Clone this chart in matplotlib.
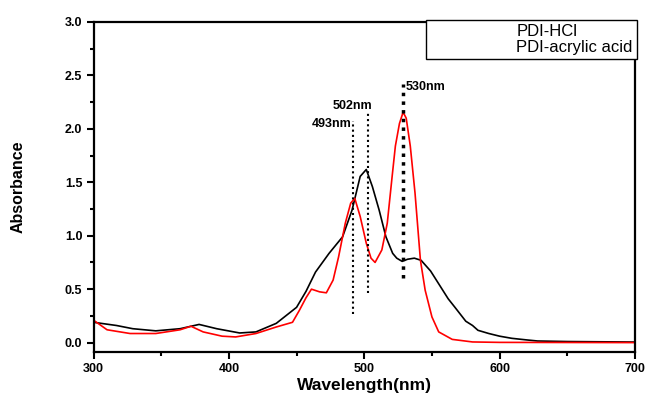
import matplotlib
matplotlib.use("Agg")
import matplotlib.pyplot as plt
from matplotlib.lines import Line2D
from matplotlib.ticker import MultipleLocator, FormatStrFormatter

plt.rcParams['font.family'] = ['Liberation Sans', 'DejaVu Sans']

# PDI-HCl (black)
hcl_wl = [300, 317, 329, 346, 364, 378, 391, 408, 420, 435, 450, 457, 464, 474, 484,
          491, 497, 501.5, 506, 511, 516, 521, 524, 528, 532, 537, 542, 549, 555,
          562, 567, 575, 580, 584, 592, 600, 609, 620, 628, 650, 700]
hcl_abs = [0.19, 0.16, 0.13, 0.11, 0.13, 0.17, 0.13, 0.09, 0.10, 0.18, 0.33, 0.48, 0.66, 0.835, 0.99,
           1.24, 1.555, 1.62, 1.46, 1.24, 0.99, 0.835, 0.79, 0.76, 0.78, 0.79, 0.77, 0.67, 0.55,
           0.41, 0.33, 0.2, 0.16, 0.115, 0.085, 0.06, 0.04, 0.025, 0.015, 0.01, 0.005]

# PDI-acrylic acid (red)
acr_wl = [300, 310, 327, 346, 364, 372, 381, 395, 405, 420, 435, 447, 452, 457, 461,
          467, 472, 477, 481, 486, 490, 493, 497, 501.5, 505, 508, 513, 517, 520.6,
          523, 526, 528.7, 531, 534, 537.5, 541.5, 545, 550, 555, 565, 580, 600, 700]
acr_abs = [0.21, 0.12, 0.085, 0.085, 0.12, 0.153, 0.10, 0.06, 0.053, 0.085, 0.146, 0.19, 0.30, 0.42, 0.50,
           0.475, 0.466, 0.585, 0.80, 1.117, 1.305, 1.35, 1.18, 0.93, 0.79, 0.75, 0.867, 1.117, 1.555,
           1.84, 2.05, 2.156, 2.1, 1.84, 1.40, 0.77, 0.49, 0.24, 0.10, 0.03, 0.006, 0.002, 0.0]

# dotted peak markers and their labels
marks_x = [492, 502.7, 528.3]
marks_lo = [0.27, 0.46, 0.60]
marks_hi = [2.07, 2.17, 2.42]
marks_lbl = ["493nm", "502nm", "530nm"]
marks_tx = [490.4, 505.8, 530.6]
marks_ty = [2.05, 2.21, 2.39]
marks_ha = ["right", "right", "left"]
marks_lw = [1.5, 1.5, 2.5]

fig = plt.figure(figsize=(6.5, 3.96), dpi=100)
ax = fig.add_axes([93.5 / 650, 1 - 352 / 396, (635 - 93.5) / 650, (352 - 22) / 396])

ax.plot(hcl_wl, hcl_abs, color="black", lw=1.2)
ax.plot(acr_wl, acr_abs, color="red", lw=1.2)

for x, lo, hi, lbl, tx, ty, ha, lw in zip(marks_x, marks_lo, marks_hi, marks_lbl,
                                          marks_tx, marks_ty, marks_ha, marks_lw):
    ax.plot([x, x], [lo, hi], color="black", lw=lw, linestyle=(0, (1, 1.5)))
    ax.text(tx, ty, lbl, ha=ha, va="center", fontsize=9, fontweight="bold")

ax.set_xlim(300, 700)
ax.set_ylim(-0.088, 3.0)
ax.xaxis.set_major_locator(MultipleLocator(100))
ax.xaxis.set_minor_locator(MultipleLocator(50))
ax.yaxis.set_major_locator(MultipleLocator(0.5))
ax.yaxis.set_minor_locator(MultipleLocator(0.25))
ax.yaxis.set_major_formatter(FormatStrFormatter("%.1f"))
ax.tick_params(which="major", direction="out", length=5, width=1.5, labelsize=9, pad=3)
ax.tick_params(which="minor", direction="out", length=3, width=1.5)
for lab in ax.get_xticklabels() + ax.get_yticklabels():
    lab.set_fontweight("bold")
for sp in ax.spines.values():
    sp.set_linewidth(1.6)

ax.set_xlabel("Wavelength(nm)", fontsize=12.5, fontweight="bold", labelpad=2)
ax.set_ylabel("Absorbance", fontsize=11.5, fontweight="bold", labelpad=28)

handles = [Line2D([], [], color="white", lw=0), Line2D([], [], color="white", lw=0)]
leg = ax.legend(handles, ["PDI-HCl", "PDI-acrylic acid"], loc="upper right",
                bbox_to_anchor=(637 / 650, 1 - 20 / 396), bbox_transform=fig.transFigure,
                borderaxespad=0, fontsize=12, handlelength=4.6, handletextpad=0.6,
                labelspacing=0.05, borderpad=0.25, fancybox=False, framealpha=1)
leg.get_frame().set_edgecolor("black")
leg.get_frame().set_linewidth(1.0)

fig.savefig("out.png", dpi=100)
